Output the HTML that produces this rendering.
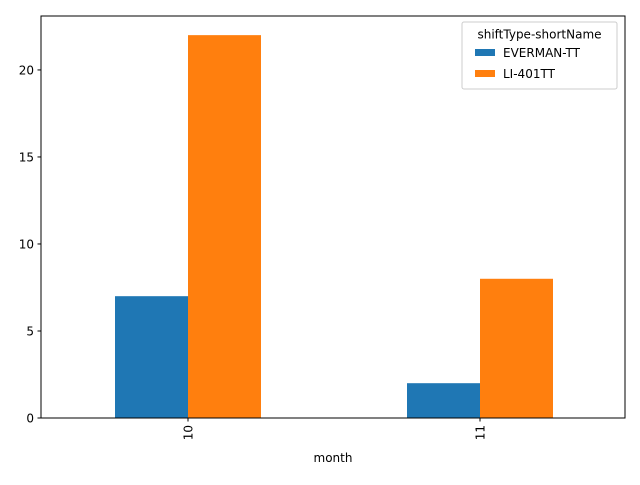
<!DOCTYPE html>
<html><head><meta charset="utf-8"><style>
body{margin:0;background:#fff}
svg{font-family:"DejaVu Sans","Liberation Sans",sans-serif}
</style></head><body>
<svg id="chart" width="640" height="480" xmlns="http://www.w3.org/2000/svg"></svg>
<script>
const categories = ["10", "11"];
const seriesNames = ["EVERMAN-TT", "LI-401TT"];
const everman = [7, 2];
const li401 = [22, 8];
const yTicks = [0, 5, 10, 15, 20];

const NS = "http://www.w3.org/2000/svg";
const svg = document.getElementById("chart");
const L = 41, R = 625, T = 16, B = 418;
const yMax = 23.1;
const colors = ["#1f77b4", "#ff7f0e"];
const xS = v => L + 1 + (v + 0.5) / 2 * (R - L);
const yS = v => B - v / yMax * (B - T);
function mk(tag, attrs, text) {
  const e = document.createElementNS(NS, tag);
  for (const k in attrs) e.setAttribute(k, attrs[k]);
  if (text !== undefined) e.textContent = text;
  svg.appendChild(e);
  return e;
}
const series = [everman, li401];
series.forEach((vals, s) => {
  vals.forEach((v, i) => {
    const x0 = xS(i - 0.25 + s * 0.25);
    const x1 = xS(i + s * 0.25);
    const r = mk("rect", {x: x0, y: yS(v), width: x1 - x0, height: yS(0) - yS(v), fill: colors[s]});
    
    
  });
});
const frame = mk("rect", {x: L, y: T, width: R - L, height: B - T, fill: "none", stroke: "#000", "stroke-width": 1});


yTicks.forEach(t => {
  const y = yS(t);
  const tk = mk("line", {x1: L - 3.5, x2: L, y1: y, y2: y, stroke: "#000"});
  
  
  const lb = mk("text", {x: L - 7, y: y + 4.5, "text-anchor": "end", "font-size": 12}, String(t));
  
  
});
categories.forEach((c, i) => {
  const x = xS(i);
  const tk = mk("line", {x1: x, x2: x, y1: B, y2: B + 3.5, stroke: "#000"});
  
  
  const lb = mk("text", {x: x + 4.5, y: B + 7, "text-anchor": "end", "font-size": 12, transform: `rotate(-90 ${x + 4.5} ${B + 7})`}, c);
  
  
});
const xt = mk("text", {x: (L + R) / 2, y: 462, "text-anchor": "middle", "font-size": 12}, "month");


const lg = mk("rect", {x: 462, y: 22, width: 155, height: 67, rx: 2, fill: "#fff", "fill-opacity": 0.8, stroke: "#ccc"});


const lt = mk("text", {x: 539.5, y: 38.5, "text-anchor": "middle", "font-size": 12}, "shiftType-shortName");


seriesNames.forEach((n, s) => {
  const y = 49 + s * 21;
  const sw = mk("rect", {x: 475, y: y, width: 20, height: 7, fill: colors[s]});
  
  
  const tx = mk("text", {x: 503, y: y + 8, "font-size": 12}, n);
  
  
});
</script>
</body></html>
